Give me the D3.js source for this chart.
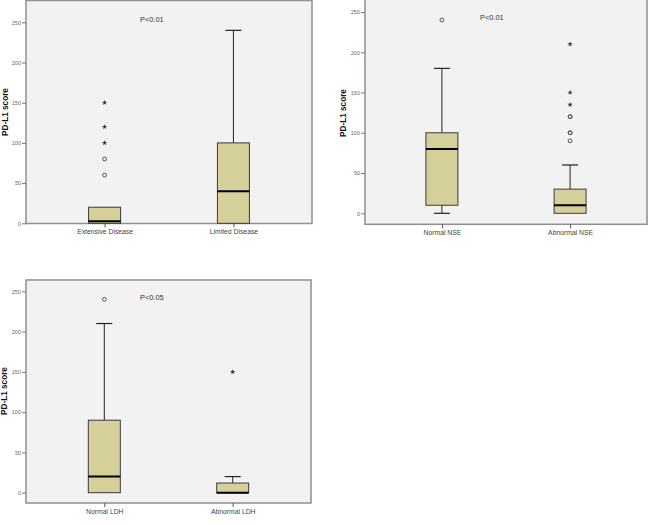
<!DOCTYPE html>
<html><head><meta charset="utf-8">
<script src="https://cdn.jsdelivr.net/npm/d3@7/dist/d3.min.js"></script>
<style>body{margin:0;background:#fff}svg{display:block}</style>
</head><body>
<svg id="c" width="650" height="525"></svg>
<script>
// ---- data ----
const yTicks = [0, 50, 100, 150, 200, 250];
const yLabel = "PD-L1 score";

const stageCats = ["Extensive Disease", "Limited Disease"];
const stageMin = [0, 0];
const stageQ1 = [0, 0];
const stageMedian = [2.5, 40];
const stageQ3 = [20, 100];
const stageMax = [20, 240];
const stageCircles = [[60, 80], []];
const stageStars = [[100, 120, 150], []];
const stageP = "P<0.01";

const nseCats = ["Normal NSE", "Abnormal NSE"];
const nseMin = [0, 0];
const nseQ1 = [10, 0];
const nseMedian = [80, 10];
const nseQ3 = [100, 30];
const nseMax = [180, 60];
const nseCircles = [[240], [90, 100, 100, 120, 120]];
const nseStars = [[], [135, 150, 210]];
const nseP = "P<0.01";

const ldhCats = ["Normal LDH", "Abnormal LDH"];
const ldhMin = [0, 0];
const ldhQ1 = [0, 0];
const ldhMedian = [20, 0];
const ldhQ3 = [90, 12];
const ldhMax = [210, 20];
const ldhCircles = [[240], []];
const ldhStars = [[], [150]];
const ldhP = "P<0.05";

// ---- drawing ----
const svg = d3.select("#c");
const font = "'Liberation Sans', Arial, sans-serif";

function panel(o) {
  const g = svg.append("g");
  const y = d3.scaleLinear().domain([0, 250]).range([o.y0, o.y250]);
  const x = d3.scalePoint().domain(o.cats).range([o.left, o.right]).padding(o.pad);

  g.append("rect").attr("x", o.left).attr("y", o.top)
    .attr("width", o.right - o.left).attr("height", o.bottom - o.top)
    .attr("fill", "#f2f2f2").attr("stroke", "#8f8f8f").attr("stroke-width", 1.5);

  // y axis
  const ya = d3.axisLeft(y).tickValues(yTicks).tickSize(4).tickPadding(1);
  const yg = g.append("g").attr("transform", `translate(${o.left},0)`).call(ya);
  yg.select(".domain").remove();
  yg.selectAll(".tick line").attr("stroke", "#777");
  yg.selectAll(".tick text").attr("font-family", font).attr("font-size", 5.5).attr("fill", "#666");

  // x axis
  const xa = d3.axisBottom(x).tickSize(4).tickPadding(2);
  const xg = g.append("g").attr("transform", `translate(0,${o.bottom})`).call(xa);
  xg.select(".domain").remove();
  xg.selectAll(".tick line").attr("stroke", "#555");
  xg.selectAll(".tick text").attr("font-family", font).attr("font-size", 6.8).attr("fill", "#444");

  // y label
  g.append("text").attr("transform", `translate(${o.ylx},${o.lyc}) rotate(-90)`)
    .attr("text-anchor", "middle").attr("font-family", font).attr("font-weight", "bold")
    .attr("font-size", 8.2).attr("fill", "#111").text(yLabel);

  // p value
  g.append("text").attr("x", o.px).attr("y", o.py).attr("font-family", font)
    .attr("font-size", 7.4).attr("fill", "#333").text(o.p);

  const bw = 32, cw = 8;
  o.cats.forEach((c, i) => {
    const cx = x(c);
    const stroke = "#222";
    // upper whisker
    if (o.max[i] > o.q3[i]) {
      g.append("line").attr("x1", cx).attr("x2", cx).attr("y1", y(o.q3[i])).attr("y2", y(o.max[i]))
        .attr("stroke", stroke).attr("stroke-width", 1);
      g.append("line").attr("x1", cx - cw).attr("x2", cx + cw).attr("y1", y(o.max[i])).attr("y2", y(o.max[i]))
        .attr("stroke", stroke).attr("stroke-width", 1.2);
    }
    if (o.min[i] < o.q1[i]) {
      g.append("line").attr("x1", cx).attr("x2", cx).attr("y1", y(o.q1[i])).attr("y2", y(o.min[i]))
        .attr("stroke", stroke).attr("stroke-width", 1);
      g.append("line").attr("x1", cx - cw).attr("x2", cx + cw).attr("y1", y(o.min[i])).attr("y2", y(o.min[i]))
        .attr("stroke", stroke).attr("stroke-width", 1.2);
    }
    g.append("rect").attr("x", cx - bw / 2).attr("y", y(o.q3[i]))
      .attr("width", bw).attr("height", Math.max(y(o.q1[i]) - y(o.q3[i]), 0.5))
      .attr("fill", "#d5cf99").attr("stroke", "#3a3a3a").attr("stroke-width", 1);
    g.append("line").attr("x1", cx - bw / 2).attr("x2", cx + bw / 2)
      .attr("y1", y(o.median[i])).attr("y2", y(o.median[i]))
      .attr("stroke", "#000").attr("stroke-width", 2);
    o.circles[i].forEach(v => {
      g.append("circle").attr("cx", cx).attr("cy", y(v)).attr("r", 1.9)
        .attr("fill", "none").attr("stroke", "#444").attr("stroke-width", 0.9);
    });
    o.stars[i].forEach(v => {
      g.append("path").attr("transform", `translate(${cx},${y(v)})`)
        .attr("d", d3.symbol(d3.symbolStar, 9)()).attr("fill", "#333");
    });
  });
}

panel({cats: stageCats, min: stageMin, q1: stageQ1, median: stageMedian, q3: stageQ3, max: stageMax,
  circles: stageCircles, stars: stageStars, p: stageP,
  left: 26, right: 312, top: 0.5, bottom: 223.5, y0: 223.3, y250: 22.3, pad: 0.61,
  ylx: 7.5, lyc: 112, px: 140, py: 22});

panel({cats: nseCats, min: nseMin, q1: nseQ1, median: nseMedian, q3: nseQ3, max: nseMax,
  circles: nseCircles, stars: nseStars, p: nseP,
  left: 365, right: 647, top: -3, bottom: 224.3, y0: 213.3, y250: 12, pad: 0.6,
  ylx: 345.5, lyc: 113, px: 480, py: 20});

panel({cats: ldhCats, min: ldhMin, q1: ldhQ1, median: ldhMedian, q3: ldhQ3, max: ldhMax,
  circles: ldhCircles, stars: ldhStars, p: ldhP,
  left: 26, right: 311, top: 280, bottom: 503, y0: 492.7, y250: 291.3, pad: 0.61,
  ylx: 6.5, lyc: 391, px: 140, py: 299.5});
</script>
</body></html>
